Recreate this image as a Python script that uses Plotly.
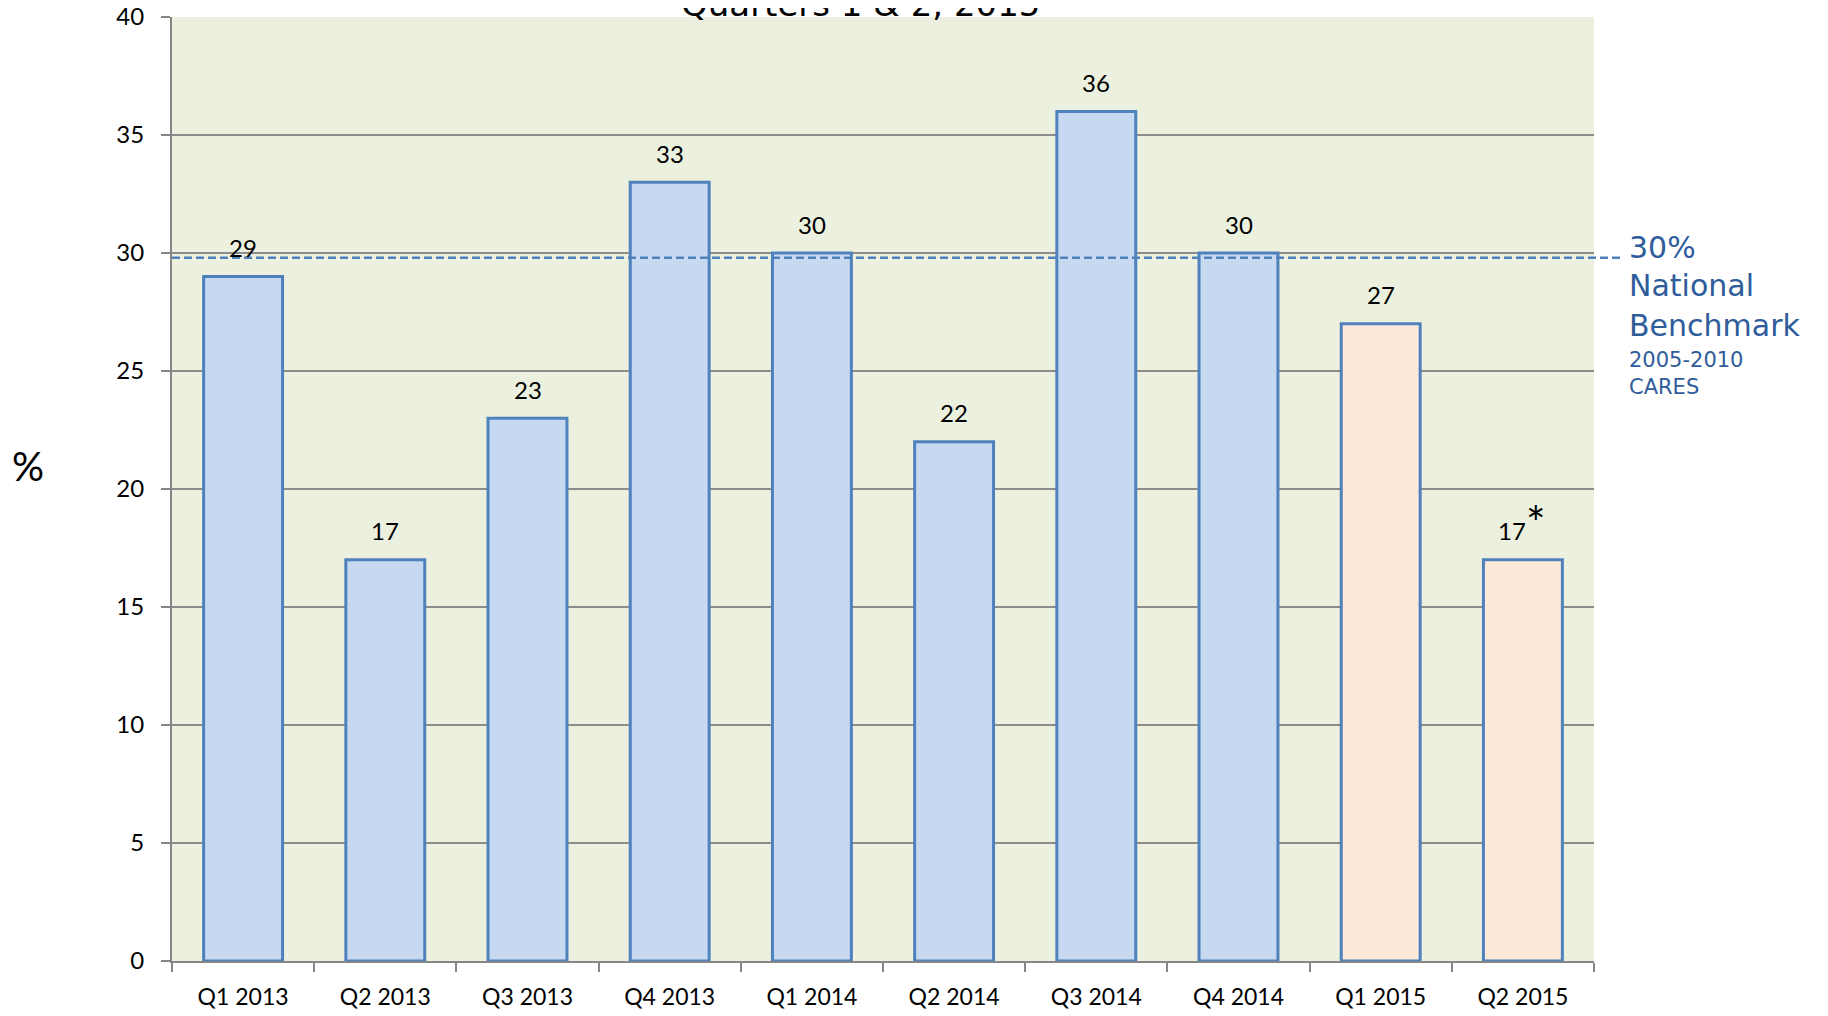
import plotly.graph_objects as go

quarters = ["Q1 2013", "Q2 2013", "Q3 2013", "Q4 2013", "Q1 2014",
            "Q2 2014", "Q3 2014", "Q4 2014", "Q1 2015", "Q2 2015"]
values = [29, 17, 23, 33, 30, 22, 36, 30, 27, 17]
years = ["2013", "2013", "2013", "2013", "2014", "2014", "2014", "2014", "2015", "2015"]
benchmark = 29.8
y_ticks = [0, 5, 10, 15, 20, 25, 30, 35, 40]

# page is offset by the default 8px body margin
OFF = 8
W, H = 1828 - OFF, 1016 - OFF
L, R, T, B = 172 - OFF, 234, 17 - OFF, 55
PW, PH = W - L - R, H - T - B

def py(page_y):
    return (OFF + T + PH - page_y) / PH

def pxx(page_x):
    return (page_x - OFF - L) / PW

fills = ["#FDE9D9" if y == "2015" else "#C6D9F1" for y in years]

fig = go.Figure()
fig.add_trace(go.Bar(
    x=quarters, y=values,
    marker=dict(color=fills, line=dict(color="#4F81BD", width=3)),
    hoverinfo="x+y",
))

ann = []
for q, v in zip(quarters, values):
    ann.append(dict(x=q, y=v, xref="x", yref="y", text=str(v), showarrow=False,
                    yanchor="middle", yshift=29,
                    xshift=(-11 if q == "Q2 2015" else 0),
                    font=dict(family="Lato", size=24, color="#000000")))
# asterisk on last quarter
ann.append(dict(x=quarters[-1], y=values[-1], xref="x", yref="y", text="*",
                showarrow=False, yanchor="middle", yshift=37, xshift=13,
                font=dict(family="Lato", size=46, color="#000000")))

# title (cut off at top, as in the original)
ann.append(dict(x=pxx(860), y=py(26), xref="paper", yref="paper",
                text="Quarters 1 &amp; 2, 2015", showarrow=False,
                xanchor="center", yanchor="bottom",
                font=dict(family="DejaVu Sans", size=34, color="#000000")))

# y axis label
ann.append(dict(x=pxx(28), y=py(466), xref="paper", yref="paper", text="%",
                showarrow=False, xanchor="center", yanchor="middle",
                font=dict(family="Lato", size=40, color="#000000")))

bench_col = "#2F5C9A"
bench_lines = [("30%", 30, 248), ("National", 30, 285), ("Benchmark", 30, 325),
               ("2005-2010", 21, 360), ("CARES", 21, 387)]
for txt, sz, ypx in bench_lines:
    ann.append(dict(x=pxx(1627), y=py(ypx), xref="paper", yref="paper", text=txt,
                    showarrow=False, xanchor="left", yanchor="middle",
                    font=dict(family="DejaVu Sans", size=sz, color=bench_col)))

fig.add_shape(type="line", xref="paper", yref="y", x0=0, x1=pxx(1622),
              y0=benchmark, y1=benchmark,
              line=dict(color="#4F81BD", width=2.5, dash="8px,4px"))

fig.update_layout(
    width=W, height=H,
    margin=dict(l=L, r=R, t=T, b=B, pad=0, autoexpand=False),
    paper_bgcolor="#FFFFFF", plot_bgcolor="#EBF1DE",
    bargap=0.445, showlegend=False,
    annotations=ann,
)
fig.update_xaxes(
    type="category", tickson="boundaries", ticks="outside", ticklen=9,
    tickcolor="#868686", tickwidth=2, showline=True, linecolor="#868686",
    linewidth=2, showgrid=False, automargin=False, ticklabelstandoff=14,
    ticklabeloverflow="allow",
    tickfont=dict(family="Lato", size=23, color="#000000"),
)
fig.update_yaxes(
    range=[0, 40], tickvals=y_ticks, ticks="outside", ticklen=9,
    tickcolor="#868686", tickwidth=2, showline=True, linecolor="#868686",
    linewidth=2, showgrid=True, gridcolor="#8C8C8C", gridwidth=1.5,
    zeroline=False, ticklabelstandoff=12, automargin=False,
    ticklabeloverflow="allow",
    tickfont=dict(family="Lato", size=24, color="#000000"),
)

fig.write_html("out.html")
